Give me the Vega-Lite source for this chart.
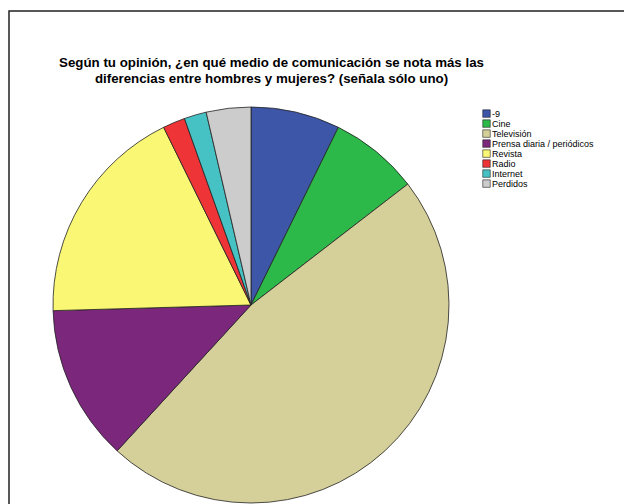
{
  "$schema": "https://vega.github.io/schema/vega-lite/v6.json",
  "width": 615,
  "height": 493,
  "padding": {"left": 9, "top": 11, "right": 0, "bottom": 0},
  "background": "white",
  "view": {"stroke": "#222222", "strokeWidth": 1.5, "strokeDash": [615, 1108, 493]},
  "config": {
    "font": "Liberation Sans",
    "view": {"stroke": "#222222", "strokeWidth": 1.5, "strokeDash": [615, 1108, 493]}
  },
  "title": {
    "text": ["Según tu opinión, ¿en qué medio de comunicación se nota más las", "diferencias entre hombres y mujeres? (señala sólo uno)"],
    "anchor": "middle",
    "frame": "group",
    "offset": -74,
    "dx": -45,
    "font": "Liberation Sans",
    "fontSize": 13.3,
    "fontWeight": "bold",
    "lineHeight": 16,
    "color": "black"
  },
  "data": {
    "values": [
      {"medio": "-9", "n": 4, "k": 1},
      {"medio": "Cine", "n": 4, "k": 2},
      {"medio": "Televisión", "n": 26, "k": 3},
      {"medio": "Prensa diaria / periódicos", "n": 7, "k": 4},
      {"medio": "Revista", "n": 10, "k": 5},
      {"medio": "Radio", "n": 1, "k": 6},
      {"medio": "Internet", "n": 1, "k": 7},
      {"medio": "Perdidos", "n": 2, "k": 8}
    ]
  },
  "mark": {"type": "arc", "x": 242, "y": 294, "outerRadius": 198, "stroke": "#222222", "strokeWidth": 0.8},
  "encoding": {
    "theta": {"field": "n", "type": "quantitative", "stack": true},
    "order": {"field": "k", "type": "quantitative"},
    "color": {
      "field": "medio",
      "type": "nominal",
      "scale": {
        "domain": ["-9", "Cine", "Televisión", "Prensa diaria / periódicos", "Revista", "Radio", "Internet", "Perdidos"],
        "range": ["#3D56A8", "#2DB84A", "#D5CF9A", "#7B287C", "#FAF774", "#EE3436", "#47C2C4", "#CCCCCC"]
      },
      "legend": {
        "title": null,
        "orient": "none",
        "legendX": 473,
        "legendY": 98,
        "padding": 0,
        "symbolType": "square",
        "symbolSize": 56,
        "symbolStrokeColor": "#222222",
        "symbolStrokeWidth": 0.6,
        "symbolOpacity": 1,
        "labelFontSize": 9,
        "labelFont": "Liberation Sans",
        "labelColor": "black",
        "labelOffset": 1,
        "clipHeight": 9.2,
        "rowPadding": 0,
        "labelLimit": 300
      }
    }
  }
}
